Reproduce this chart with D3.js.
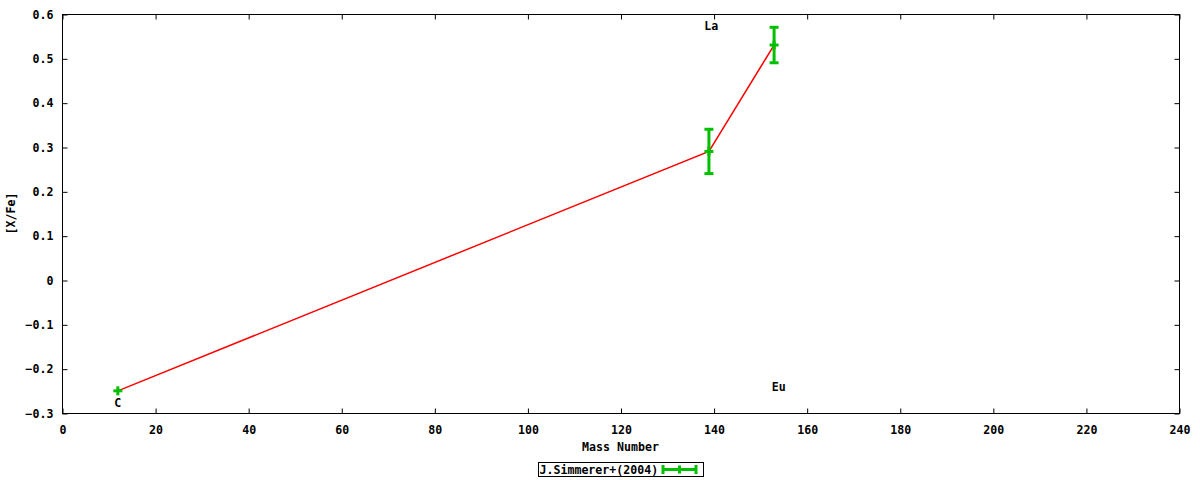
<!DOCTYPE html>
<html>
<head>
<meta charset="utf-8">
<script src="https://cdn.jsdelivr.net/npm/d3@7"></script>
<style>
  body { margin: 0; background: #fff; }
  text { font-family: "DejaVu Sans Mono", monospace; font-weight: bold; font-size: 11.6px; fill: #000; }
</style>
</head>
<body>
<div id="chart"></div>
<script>
// data
const elements = ['C', 'La', 'Eu'];
const massNumbers = [12, 139, 153];
const xFe = [-0.25, 0.29, 0.53];
const xFeErr = [0, 0.05, 0.04];
const labelX = [12, 139.5, 154];
const labelY = [-0.277, 0.572, -0.242];
const xTicks = [0, 20, 40, 60, 80, 100, 120, 140, 160, 180, 200, 220, 240];
const yTicks = [-0.3, -0.2, -0.1, 0, 0.1, 0.2, 0.3, 0.4, 0.5, 0.6];
const seriesName = 'J.Simmerer+(2004)';

const width = 1200, height = 480;
const margin = {top: 14, right: 21, bottom: 67, left: 62};

const svg = d3.select('#chart')
    .append('svg')
    .attr('width', width)
    .attr('height', height);

const x = d3.scaleLinear().domain([0, 240]).range([margin.left, width - margin.right]);
const y = d3.scaleLinear().domain([-0.3, 0.6]).range([height - margin.bottom, margin.top]);

const fmt = d => d === 0 ? '0' : d3.format('.1f')(d);

// border
svg.append('rect')
    .attr('x', x(0) + 0.5)
    .attr('y', y(0.6) + 0.5)
    .attr('width', x(240) - x(0))
    .attr('height', y(-0.3) - y(0.6))
    .attr('fill', 'none')
    .attr('stroke', '#000')
    .attr('stroke-width', 1);

// axes, ticks inward, mirrored
const tickLen = 5;
const bottomAxis = svg.append('g')
    .attr('transform', `translate(0.5,${y(-0.3) + 0.5})`)
    .call(d3.axisBottom(x).tickValues(xTicks).tickSize(-tickLen).tickPadding(12).tickFormat(d3.format('d')));
const topAxis = svg.append('g')
    .attr('transform', `translate(0.5,${y(0.6) + 0.5})`)
    .call(d3.axisTop(x).tickValues(xTicks).tickSize(-tickLen).tickFormat(''));
const leftAxis = svg.append('g')
    .attr('transform', `translate(${x(0) + 0.5},0.5)`)
    .call(d3.axisLeft(y).tickValues(yTicks).tickSize(-tickLen).tickPadding(9).tickFormat(fmt));
const rightAxis = svg.append('g')
    .attr('transform', `translate(${x(240) + 0.5},0.5)`)
    .call(d3.axisRight(y).tickValues(yTicks).tickSize(-tickLen).tickFormat(''));

[bottomAxis, topAxis, leftAxis, rightAxis].forEach(g => {
    g.select('.domain').remove();
    g.selectAll('line').attr('stroke', '#000');
    g.selectAll('text')
        .style('font-family', '"DejaVu Sans Mono", monospace')
        .style('font-weight', 'bold')
        .style('font-size', '11.6px');
});

// axis titles
svg.append('text')
    .attr('x', (x(0) + x(240)) / 2)
    .attr('y', 451)
    .attr('text-anchor', 'middle')
    .text('Mass Number');

svg.append('text')
    .attr('transform', `translate(15,${(y(0.6) + y(-0.3)) / 2}) rotate(-90)`)
    .attr('text-anchor', 'middle')
    .text('[X/Fe]');

const points = elements.map((e, i) => ({
    name: e, mass: massNumbers[i], v: xFe[i], err: xFeErr[i], lx: labelX[i], ly: labelY[i]
}));

// red connecting line
const line = d3.line().x(d => x(d.mass)).y(d => y(d.v));
svg.append('path')
    .datum(points)
    .attr('d', line)
    .attr('fill', 'none')
    .attr('stroke', '#ff0000')
    .attr('stroke-width', 1.5);

// error bars with plus markers
const green = '#00c000';
const bars = svg.append('g').attr('stroke', green).attr('stroke-width', 3);
const capW = 4.5;
points.forEach(d => {
    const cx = x(d.mass), cy = y(d.v);
    const top = y(d.v + d.err), bot = y(d.v - d.err);
    // plus marker
    bars.append('line').attr('x1', cx - capW).attr('x2', cx + capW).attr('y1', cy).attr('y2', cy);
    bars.append('line').attr('x1', cx).attr('x2', cx).attr('y1', cy - 4.5).attr('y2', cy + 4.5);
    if (d.err > 0) {
        bars.append('line').attr('x1', cx).attr('x2', cx).attr('y1', top).attr('y2', bot);
        bars.append('line').attr('x1', cx - capW).attr('x2', cx + capW).attr('y1', top).attr('y2', top);
        bars.append('line').attr('x1', cx - capW).attr('x2', cx + capW).attr('y1', bot).attr('y2', bot);
    }
});

// element labels
svg.append('g')
    .selectAll('text')
    .data(points)
    .enter()
    .append('text')
    .attr('x', d => x(d.lx))
    .attr('y', d => y(d.ly))
    .attr('dy', '0.35em')
    .attr('text-anchor', 'middle')
    .text(d => d.name);

// legend
const legend = svg.append('g').attr('transform', 'translate(538,462)');
legend.append('rect')
    .attr('x', 0.5).attr('y', 0.5)
    .attr('width', 165).attr('height', 14)
    .attr('fill', '#fff')
    .attr('stroke', '#000');
legend.append('text')
    .attr('x', 1.5)
    .attr('y', 11.5)
    .text(seriesName);
const lg = legend.append('g').attr('stroke', green).attr('stroke-width', 3);
lg.append('line').attr('x1', 124).attr('x2', 159).attr('y1', 7.5).attr('y2', 7.5);
lg.append('line').attr('x1', 125).attr('x2', 125).attr('y1', 3).attr('y2', 12);
lg.append('line').attr('x1', 158).attr('x2', 158).attr('y1', 3).attr('y2', 12);
lg.append('line').attr('x1', 141.5).attr('x2', 141.5).attr('y1', 3.5).attr('y2', 11.5);
</script>
</body>
</html>
